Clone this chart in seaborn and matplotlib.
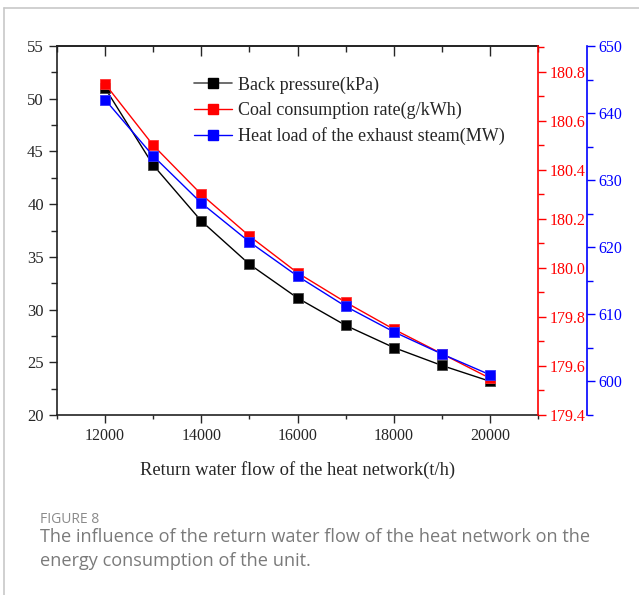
import matplotlib
matplotlib.use("Agg")
import matplotlib.pyplot as plt
from matplotlib.lines import Line2D
from matplotlib.ticker import MultipleLocator, FormatStrFormatter, NullFormatter
import seaborn as sns
import pandas as pd

# dane
flow = [12000, 13000, 14000, 15000, 16000, 17000, 18000, 19000, 20000]
back_pressure = [51.0, 43.7, 38.4, 34.3, 31.1, 28.5, 26.4, 24.7, 23.2]
coal_rate = [180.75, 180.50, 180.30, 180.13, 179.98, 179.86, 179.75, 179.65, 179.55]
heat_load = [642.0, 633.6, 626.6, 620.8, 615.7, 611.2, 607.4, 604.1, 601.0]

labels = ["Back pressure(kPa)", "Coal consumption rate(g/kWh)",
          "Heat load of the exhaust steam(MW)"]
xlabel = "Return water flow of the heat network(t/h)"
caption_head = "FIGURE 8"
caption_text = ("The influence of the return water flow of the heat network on the\n"
                "energy consumption of the unit.")

df = pd.DataFrame({"flow": flow, "bp": back_pressure, "coal": coal_rate, "heat": heat_load})


def style_right(axis, color, major, minor, fmt=None):
    axis.set_ylabel("")
    axis.yaxis.set_major_locator(MultipleLocator(major))
    axis.yaxis.set_minor_locator(MultipleLocator(minor))
    if fmt:
        axis.yaxis.set_major_formatter(FormatStrFormatter(fmt))
    axis.tick_params(axis="y", which="both", colors=color, labelsize=11.5,
                     direction="out", width=1, pad=2)
    axis.tick_params(axis="y", which="major", length=6)
    axis.tick_params(axis="y", which="minor", length=4)
    axis.spines["right"].set_color(color)
    axis.spines["right"].set_linewidth(1.2)
    for s in ["left", "top", "bottom"]:
        axis.spines[s].set_visible(False)


def main():
    sns.set_theme(style="ticks")
    plt.rcParams["font.family"] = ["Liberation Serif", "DejaVu Serif"]

    fig = plt.figure(figsize=(6.39, 5.95), dpi=100)
    ax = fig.add_axes([0.0892, 0.3025, 0.7528, 0.6202])
    ax2 = ax.twinx()
    ax3 = ax.twinx()
    ax3.spines["right"].set_position(("axes", 1.102))

    sq = dict(marker="s", markersize=7, linewidth=1.0)
    sns.lineplot(data=df, x="flow", y="bp", ax=ax, color="black",
                 markeredgecolor="#444444", markeredgewidth=0.6, **sq)
    sns.lineplot(data=df, x="flow", y="coal", ax=ax2, color="#ff0000",
                 markeredgecolor="#ff3333", markeredgewidth=0.6, **sq)
    sns.lineplot(data=df, x="flow", y="heat", ax=ax3, color="#0000ff",
                 markeredgecolor="#3333ff", markeredgewidth=0.6, **sq)

    # os x
    ax.set_xlim(11000, 21000)
    ax.xaxis.set_major_locator(MultipleLocator(2000))
    ax.xaxis.set_minor_locator(MultipleLocator(1000))
    ax.set_xlabel(xlabel, fontsize=13.3, labelpad=12)
    ax.set_ylabel("")
    ax.tick_params(axis="x", which="both", direction="out", labelsize=11.5, width=1)
    ax.tick_params(axis="x", which="major", length=6)
    ax.tick_params(axis="x", which="minor", length=3)

    # gorna os - kreski do srodka
    top = ax.secondary_xaxis("top")
    top.xaxis.set_major_locator(MultipleLocator(2000))
    top.xaxis.set_minor_locator(MultipleLocator(1000))
    top.xaxis.set_major_formatter(NullFormatter())
    top.tick_params(axis="x", which="both", direction="in", width=1)
    top.tick_params(axis="x", which="major", length=7)
    top.tick_params(axis="x", which="minor", length=4)
    top.spines["top"].set_linewidth(1.2)
    top.spines["top"].set_color("#222222")

    # lewa os
    ax.set_ylim(20, 55)
    ax.yaxis.set_major_locator(MultipleLocator(5))
    ax.yaxis.set_minor_locator(MultipleLocator(2.5))
    ax.tick_params(axis="y", which="major", length=6, width=1, labelsize=12, direction="out")
    ax.tick_params(axis="y", which="minor", length=4, width=1, direction="out")
    for s in ["left", "bottom", "top"]:
        ax.spines[s].set_linewidth(1.2)
        ax.spines[s].set_color("#222222")
    ax.spines["right"].set_visible(False)

    # czerwona i niebieska os
    ax2.set_ylim(179.4, 180.905)
    style_right(ax2, "#ff0000", 0.2, 0.1, "%.1f")
    ax3.set_ylim(595, 650)
    style_right(ax3, "#0000ff", 10, 5)

    handles = [
        Line2D([], [], color="#555555", marker="s", markersize=7, markerfacecolor="black",
               markeredgecolor="black", lw=1.2),
        Line2D([], [], color="#ff0000", marker="s", markersize=7, lw=1.0),
        Line2D([], [], color="#0000ff", marker="s", markersize=7, lw=1.0),
    ]
    ax3.legend(handles, labels, loc="upper left", bbox_to_anchor=(0.27, 0.937),
               frameon=False, fontsize=13.0, handlelength=2.1, handletextpad=0.35,
               labelspacing=0.45, borderaxespad=0)

    # podpis i ramka
    fig.text(0.0626, 0.121, caption_head, fontsize=10, color="#8a8a8a",
             family=["Open Sans", "DejaVu Sans"])
    fig.text(0.0626, 0.112, caption_text, fontsize=13.1, color="#7a7a7a",
             family=["Open Sans", "DejaVu Sans"], va="top", linespacing=1.38)
    fig.add_artist(Line2D([0.007, 0.007], [0, 0.987], transform=fig.transFigure,
                          color="#c8c8c8", lw=1.2))
    fig.add_artist(Line2D([0.007, 1.0], [0.987, 0.987], transform=fig.transFigure,
                          color="#c8c8c8", lw=1.2))

    plt.savefig("out.png", dpi=100)
    plt.close()


if __name__ == "__main__":
    main()
